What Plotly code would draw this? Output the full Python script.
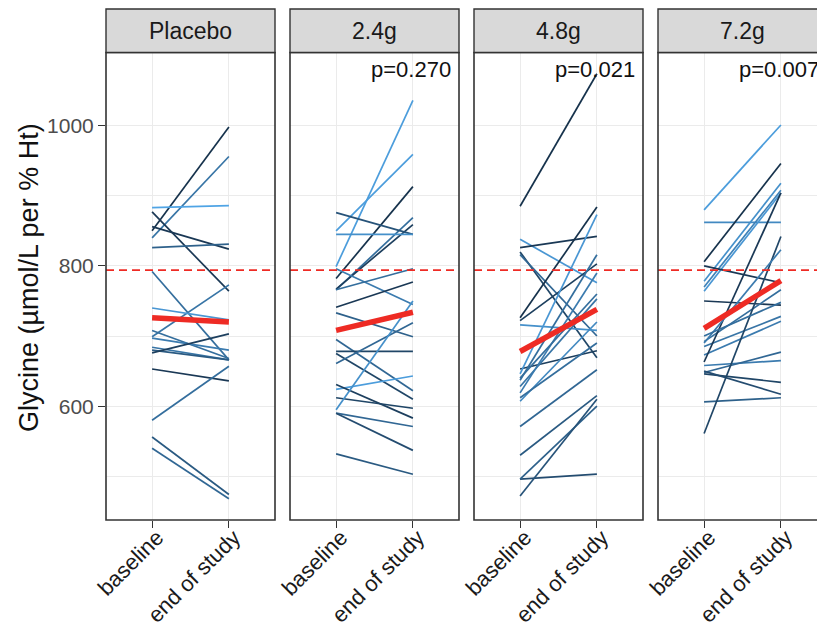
import plotly.graph_objects as go

# ---------------- data ----------------
panels = ["Placebo", "2.4g", "4.8g", "7.2g"]
p_values = ["", "p=0.270", "p=0.021", "p=0.007"]
timepoints = ["baseline", "end of study"]
reference_level = 794

placebo_baseline = [850, 840, 883, 877, 856, 826, 792, 699, 740, 708, 697, 684, 680, 676, 653, 580, 556, 540]
placebo_end      = [998, 956, 886, 764, 824, 831, 666, 773, 723, 668, 680, 666, 666, 703, 636, 657, 474, 468]
placebo_shade    = [0.05, 0.55, 0.9, 0.1, 0.1, 0.4, 0.5, 0.55, 0.8, 0.5, 0.6, 0.55, 0.35, 0.15, 0.1, 0.5, 0.35, 0.45]

dose24_baseline = [799, 850, 782, 766, 767, 876, 845, 796, 741, 766, 733, 695, 678, 675, 661, 624, 631, 612, 595, 590, 590, 532]
dose24_end      = [1036, 959, 913, 869, 859, 845, 845, 745, 777, 796, 699, 622, 678, 610, 719, 643, 583, 597, 750, 571, 537, 503]
dose24_shade    = [0.85, 0.85, 0.05, 0.5, 0.15, 0.3, 0.75, 0.6, 0.1, 0.5, 0.4, 0.45, 0.2, 0.2, 0.45, 0.85, 0.15, 0.2, 0.75, 0.45, 0.25, 0.35]

dose48_baseline = [885, 838, 826, 820, 816, 726, 722, 716, 653, 646, 637, 628, 619, 607, 612, 571, 530, 496, 496, 472, 640]
dose48_end      = [1074, 776, 842, 669, 700, 884, 803, 708, 679, 873, 816, 753, 790, 720, 690, 652, 615, 503, 600, 610, 760]
dose48_shade    = [0.05, 0.8, 0.1, 0.2, 0.45, 0.05, 0.15, 0.75, 0.15, 0.8, 0.5, 0.55, 0.6, 0.7, 0.5, 0.45, 0.35, 0.25, 0.4, 0.3, 0.5]

dose72_baseline = [880, 862, 806, 778, 770, 764, 800, 750, 692, 685, 673, 663, 658, 648, 646, 650, 606, 561, 690, 700]
dose72_end      = [1001, 862, 946, 918, 908, 904, 776, 744, 766, 728, 721, 904, 665, 677, 634, 617, 612, 842, 823, 748]
dose72_shade    = [0.85, 0.7, 0.05, 0.75, 0.65, 0.8, 0.1, 0.1, 0.5, 0.55, 0.6, 0.1, 0.6, 0.45, 0.2, 0.25, 0.4, 0.2, 0.6, 0.5]

mean_baseline = [726, 708, 678, 711]
mean_end      = [720, 734, 738, 779]

# ---------------- layout helpers ----------------
W, H = 817, 626
panel_left = [106, 290, 474, 658]
panel_w = 169
panel_top, panel_bottom = 52.5, 520
strip_top = 9

def px(x):
    return x / W

def py(y):
    return 1 - y / H

LOW = (0x13, 0x2B, 0x43)
HIGH = (0x56, 0xB1, 0xF7)

def shade_color(t):
    r, g, b = (round(LOW[i] + (HIGH[i] - LOW[i]) * t) for i in range(3))
    return f"rgb({r},{g},{b})"

groups = [
    (placebo_baseline, placebo_end, placebo_shade),
    (dose24_baseline, dose24_end, dose24_shade),
    (dose48_baseline, dose48_end, dose48_shade),
    (dose72_baseline, dose72_end, dose72_shade),
]

all_vals = [v for g in groups for arr in g[:2] for v in arr]
lo, hi = min(all_vals), max(all_vals)
span = hi - lo
yrange = [lo - 0.05 * span, hi + 0.05 * span]

fig = go.Figure()
shapes = []
annotations = []
font_family = "Liberation Sans, Arial, sans-serif"

for i, (base, end, shade) in enumerate(groups):
    k = "" if i == 0 else str(i + 1)
    xa, ya = "x" + k, "y" + k
    for b, e, s in zip(base, end, shade):
        fig.add_trace(go.Scatter(x=[1, 2], y=[b, e], mode="lines",
                                 line=dict(color=shade_color(s), width=1.7),
                                 xaxis=xa, yaxis=ya, hoverinfo="skip"))
    fig.add_trace(go.Scatter(x=[1, 2], y=[mean_baseline[i], mean_end[i]], mode="lines",
                             line=dict(color="#EE2B24", width=5.5),
                             xaxis=xa, yaxis=ya, hoverinfo="skip"))

    left = panel_left[i]
    right = left + panel_w
    dom_right = min(right, W)
    x_hi = 0.4 + 2.2 * (dom_right - left) / panel_w
    axis_x = dict(domain=[px(left), px(dom_right)], range=[0.4, x_hi],
                  tickvals=[1, 2], ticktext=timepoints, tickangle=-45,
                  ticks="outside", ticklen=7, tickwidth=1.4, tickcolor="#333333",
                  tickfont=dict(size=22, color="#1a1a1a", family=font_family),
                  ticklabelstandoff=-12, ticklabelshift=5,
                  showgrid=True, gridcolor="#EBEBEB", gridwidth=1.3,
                  zeroline=False, showline=False, anchor=ya, fixedrange=True,
                  automargin=False)
    axis_y = dict(domain=[py(panel_bottom), py(panel_top)], range=yrange,
                  tickvals=[600, 800, 1000],
                  showgrid=True, gridcolor="#EBEBEB", gridwidth=1.3,
                  minor=dict(tickvals=[500, 700, 900], showgrid=True,
                             gridcolor="#EBEBEB", gridwidth=1.1, ticks=""),
                  zeroline=False, showline=False, anchor=xa, fixedrange=True,
                  automargin=False)
    if i == 0:
        axis_y.update(ticks="outside", ticklen=7, tickwidth=1.4, tickcolor="#333333",
                      tickfont=dict(size=21, color="#4D4D4D", family=font_family),
                      showticklabels=True)
    else:
        axis_y.update(ticks="", showticklabels=False)
    fig.update_layout(**{"xaxis" + k: axis_x, "yaxis" + k: axis_y})

    # reference dashed line
    shapes.append(dict(type="line", xref=xa + " domain", yref=ya, x0=0, x1=1,
                       y0=reference_level, y1=reference_level,
                       line=dict(color="#EE2B24", width=1.6, dash="8px,5px"), layer="above"))
    # panel border
    shapes.append(dict(type="rect", xref="paper", yref="paper",
                       x0=px(left), x1=px(right), y0=py(panel_bottom), y1=py(panel_top),
                       line=dict(color="#333333", width=1.6), fillcolor="rgba(0,0,0,0)", layer="above"))
    # strip
    shapes.append(dict(type="rect", xref="paper", yref="paper",
                       x0=px(left), x1=px(right), y0=py(panel_top), y1=py(strip_top),
                       line=dict(color="#333333", width=1.4), fillcolor="#D9D9D9", layer="above"))
    annotations.append(dict(text=panels[i], xref="paper", yref="paper",
                            x=px(left + panel_w / 2), y=py((strip_top + panel_top) / 2),
                            xanchor="center", yanchor="middle", showarrow=False,
                            font=dict(size=23, color="#1a1a1a", family=font_family)))
    if p_values[i]:
        annotations.append(dict(text=p_values[i], xref="paper", yref="paper",
                                x=px(right - 6), y=py(69), xanchor="right", yanchor="middle",
                                showarrow=False,
                                font=dict(size=22, color="#111111", family=font_family)))

annotations.append(dict(text="Glycine (µmol/L per % Ht)", xref="paper", yref="paper",
                        x=px(29), y=py(278), xanchor="center", yanchor="middle",
                        textangle=-90, showarrow=False,
                        font=dict(size=27, color="#111111", family=font_family)))

fig.update_layout(width=W, height=H, margin=dict(l=0, r=0, t=0, b=0, autoexpand=False),
                  paper_bgcolor="white", plot_bgcolor="white", showlegend=False,
                  shapes=shapes, annotations=annotations,
                  font=dict(family=font_family))

fig.write_html("out.html")
